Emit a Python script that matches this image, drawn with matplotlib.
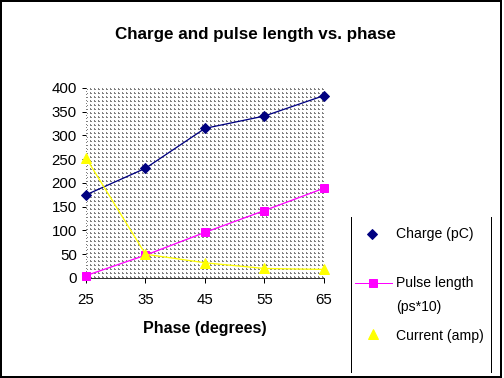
import numpy as np
import matplotlib.pyplot as plt
from matplotlib.lines import Line2D
from matplotlib.patches import Rectangle

plt.rcParams['font.family'] = ['Liberation Sans', 'DejaVu Sans']

# данные
phase = [25, 35, 45, 55, 65]
charge = [175, 231, 315, 341, 384]
pulse = [5, 48, 96, 142, 189]
current = [253, 50, 32, 20, 18]
y_ticks = [0, 50, 100, 150, 200, 250, 300, 350, 400]

fig = plt.figure(figsize=(7, 5.25), dpi=72)
ax = fig.add_axes([0.1706, 0.2646, 0.4722, 0.5026])

# серый точечный фон как в Excel
h, w = 190, 238
ii, jj = np.mgrid[0:h, 0:w]
pattern = np.where((ii % 4 < 2) & (jj % 4 < 2) & ~((ii % 4 == 0) & (jj % 4 == 1)),
                   0.5, 1.0)
pattern[:, 0] = np.where(ii[:, 0] % 3 == 0, 0.5, 1.0)
ax.imshow(pattern, cmap='gray', vmin=0, vmax=1, extent=[25, 65, 0, 400],
          aspect='auto', interpolation='nearest', zorder=0)

ax.plot(phase, charge, color='#000080', marker='D', markersize=7, lw=1.3,
        zorder=3, clip_on=False)
ax.plot(phase, pulse, color='#FF00FF', marker='s', markersize=8, lw=1.3,
        zorder=3, clip_on=False)
ax.plot(phase, current, color='#FFFF00', marker='^', markersize=10, lw=1.3,
        zorder=3, clip_on=False)

ax.set_xlim(25, 65)
ax.set_ylim(0, 400)
ax.set_xticks(phase)
ax.set_yticks(y_ticks)
ax.tick_params(labelsize=15, length=4, width=1, pad=5)
ax.tick_params(axis='x', length=5, pad=10)
for s in ['top', 'right', 'left']:
    ax.spines[s].set_visible(False)
ax.set_xlabel('Phase (degrees)', fontsize=16, fontweight='bold', labelpad=14)
fig.text(0.506, 0.91, 'Charge and pulse length vs. phase', ha='center',
         va='center', fontsize=17, fontweight='bold')

# легенда вручную
def fx(px):
    return px / 504

def fy(py):
    return 1 - py / 378

fig.add_artist(Line2D([fx(372)], [fy(234)], color='#000080', marker='D',
                      markersize=7, ls='none'))
fig.add_artist(Line2D([fx(355), fx(392)], [fy(283), fy(283)], color='#FF00FF',
                      lw=1))
fig.add_artist(Line2D([fx(373)], [fy(283)], color='#FF00FF', marker='s',
                      markersize=8, ls='none'))
fig.add_artist(Line2D([fx(373)], [fy(334)], color='#FFFF00', marker='^',
                      markersize=10, ls='none'))
fig.text(fx(396), fy(234), 'Charge (pC)', fontsize=14, va='center')
fig.text(fx(396), fy(283), 'Pulse length', fontsize=14, va='center')
fig.text(fx(396), fy(307), '(ps*10)', fontsize=14, va='center')
fig.text(fx(396), fy(336), 'Current (amp)', fontsize=14, va='center')

# рамка легенды (только боковые линии) и рамка рисунка
fig.add_artist(Line2D([fx(351), fx(351)], [fy(217), fy(372)], color='black', lw=1))
fig.add_artist(Line2D([fx(491), fx(491)], [fy(217), fy(372)], color='black', lw=1))
fig.add_artist(Rectangle((0.001, 0.003), 0.994, 0.994, fill=False,
                         edgecolor='black', lw=2))

plt.savefig('out.png', dpi=72)
